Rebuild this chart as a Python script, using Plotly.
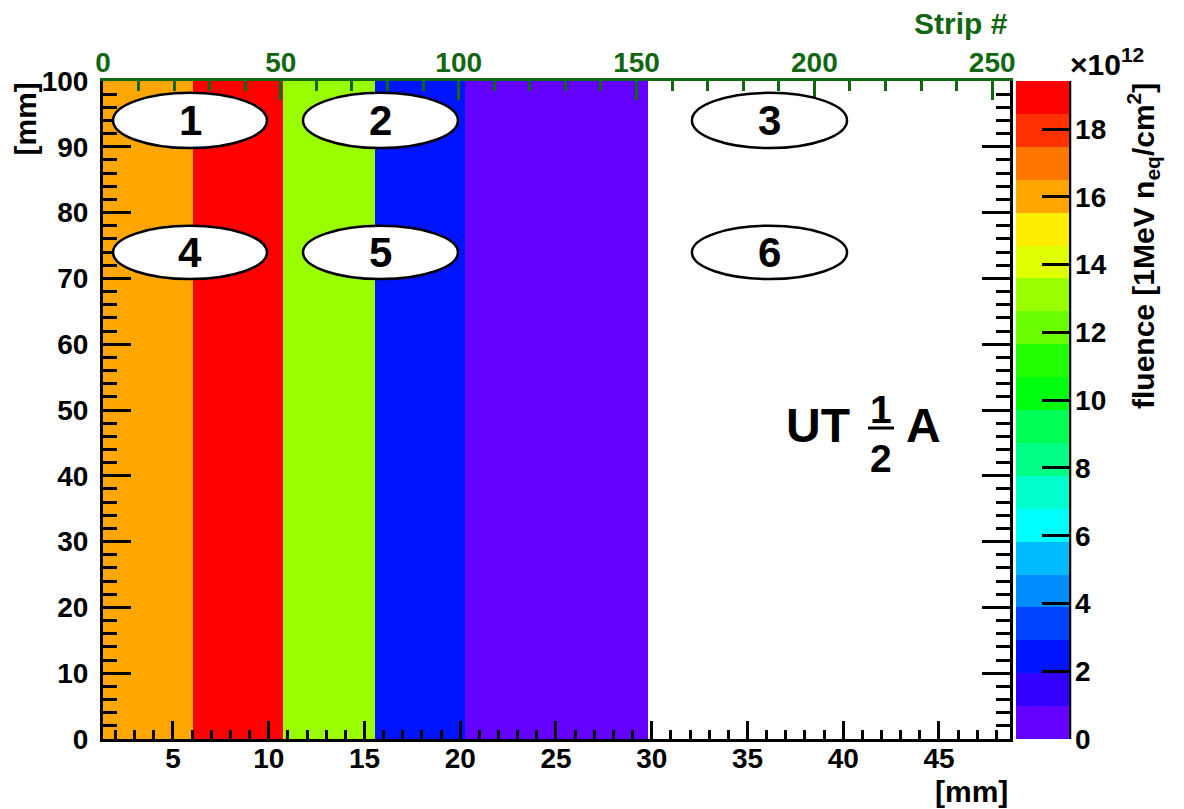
import plotly.graph_objects as go

# ---------------- data ----------------
x_edges_mm = [1.345, 6.04, 10.74, 15.55, 20.25, 25.0, 29.8]   # bin edges [mm]
y_edges_mm = [0, 100]
fluence = [16.0, 19.42, 13.1, 2.4, 0.55, 0.35]                 # x10^12 1MeV neq/cm2
x_range_mm = [1.345, 48.71]
strip_range = [0, 255]
y_range = [0, 100]
cbar_ticks = [0, 2, 4, 6, 8, 10, 12, 14, 16, 18]
sensor_labels = [["1", "2", "3"], ["4", "5", "6"]]
sensor_cols_mm = [(1.87, 9.91), (11.79, 19.88), (32.1, 40.2)]
sensor_rows_mm = [(89.8, 98.2), (69.9, 78.0)]

# ROOT "pretty" palette, 20 contour levels (bottom -> top)
palette = ["#6300ff", "#3300ff", "#0014ff", "#0044ff", "#008bff", "#00bbff",
           "#00fffc", "#00ffcc", "#00ff85", "#00ff55", "#00ff0e", "#22ff00",
           "#69ff00", "#99ff00", "#e0ff00", "#ffee00", "#ffa700", "#ff7700",
           "#ff3000", "#ff0000"]

FONT = "Liberation Sans"
GREEN = "#116611"
W, H = 1184, 809
L, R, T, B = 103, 174, 81, 70
TICK_FS = 28

n = len(palette)
colorscale = []
for k, c in enumerate(palette):
    colorscale.append([k / n, c])
    colorscale.append([(k + 1) / n, c])

zmax = max(fluence)

fig = go.Figure()
fig.add_trace(go.Heatmap(
    z=[fluence], x=x_edges_mm, y=y_edges_mm,
    zmin=0, zmax=zmax, colorscale=colorscale, zsmooth=False,
    hoverinfo="skip",
    colorbar=dict(
        x=(1016 - L) / (W - L - R), xanchor="left", xpad=0, ypad=0,
        y=0.5, yanchor="middle", len=1, lenmode="fraction",
        thickness=53, thicknessmode="pixels",
        outlinewidth=0,
        tickmode="array", tickvals=cbar_ticks,
        ticks="inside", ticklen=27, tickwidth=2.5, tickcolor="black",
        tickfont=dict(family=FONT, size=TICK_FS, color="black", weight="bold"),
    ),
))
# dummy trace to activate top axis
fig.add_trace(go.Scatter(x=[], y=[], xaxis="x2", yaxis="y", showlegend=False))

fig.update_layout(
    width=W, height=H, margin=dict(l=L, r=R, t=T, b=B, pad=0),
    paper_bgcolor="white", plot_bgcolor="white", showlegend=False,
    xaxis=dict(
        range=x_range_mm, showgrid=False, zeroline=False,
        showline=True, linecolor="black", linewidth=3, mirror=False,
        tick0=0, dtick=5, ticks="inside", ticklen=18, tickwidth=2.5, tickcolor="black",
        minor=dict(dtick=1, ticks="inside", ticklen=9, tickwidth=2.5, tickcolor="black"),
        tickfont=dict(family=FONT, size=TICK_FS, color="black", weight="bold"),
        ticklabelstandoff=-8,
    ),
    xaxis2=dict(
        range=strip_range, overlaying="x", side="top", anchor="y",
        showgrid=False, zeroline=False,
        showline=True, linecolor=GREEN, linewidth=3,
        tick0=0, dtick=50, ticks="inside", ticklen=19, tickwidth=2.5, tickcolor=GREEN,
        minor=dict(dtick=10, ticks="inside", ticklen=10, tickwidth=2.5, tickcolor=GREEN),
        tickfont=dict(family=FONT, size=TICK_FS, color=GREEN, weight="bold"),
        ticklabelstandoff=-5,
    ),
    yaxis=dict(
        range=y_range, showgrid=False, zeroline=False,
        showline=True, linecolor="black", linewidth=3, mirror="ticks",
        tick0=0, dtick=10, ticks="inside", ticklen=28, tickwidth=2.5, tickcolor="black",
        minor=dict(dtick=2, ticks="inside", ticklen=14, tickwidth=2.5, tickcolor="black"),
        tickfont=dict(family=FONT, size=TICK_FS, color="black", weight="bold"),
        ticklabelstandoff=6,
    ),
)

shapes = []
annotations = []
pw = W - L - R
ph = H - T - B

def px_x(p):
    return (p - L) / pw

def px_y(p):
    return (H - B - p) / ph

# sensor ellipses with labels
for r, (y0, y1) in enumerate(sensor_rows_mm):
    for c, (x0, x1) in enumerate(sensor_cols_mm):
        shapes.append(dict(type="circle", xref="x", yref="y", x0=x0, x1=x1, y0=y0, y1=y1,
                           fillcolor="white", line=dict(color="black", width=2.5), layer="above"))
        annotations.append(dict(x=(x0 + x1) / 2, y=(y0 + y1) / 2, xref="x", yref="y",
                                text=sensor_labels[r][c], showarrow=False,
                                font=dict(family=FONT, size=42, color="black", weight="bold"),
                                xanchor="center", yanchor="middle"))

# "UT 1/2 A" label
bold = lambda s: dict(family=FONT, size=s, color="black", weight="bold")
annotations += [
    dict(x=px_x(818), y=px_y(425), xref="paper", yref="paper", text="UT", showarrow=False,
         font=bold(48), xanchor="center", yanchor="middle"),
    dict(x=px_x(881), y=px_y(409), xref="paper", yref="paper", text="1", showarrow=False,
         font=bold(39), xanchor="center", yanchor="middle"),
    dict(x=px_x(881), y=px_y(458), xref="paper", yref="paper", text="2", showarrow=False,
         font=bold(39), xanchor="center", yanchor="middle"),
    dict(x=px_x(923), y=px_y(425), xref="paper", yref="paper", text="A", showarrow=False,
         font=bold(48), xanchor="center", yanchor="middle"),
]
shapes.append(dict(type="line", xref="paper", yref="paper", x0=px_x(868), x1=px_x(894),
                   y0=px_y(428), y1=px_y(428), line=dict(color="black", width=3)))

# colorbar axis line (right side)
shapes.append(dict(type="line", xref="paper", yref="paper", x0=px_x(1070), x1=px_x(1070),
                   y0=0, y1=1, line=dict(color="black", width=2.5)))

# axis titles
annotations += [
    dict(x=1.0, y=px_y(791), xref="paper", yref="paper", text="[mm]", showarrow=False,
         font=bold(30), xanchor="right", yanchor="middle"),
    dict(x=px_x(25), y=1.0, xref="paper", yref="paper", text="[mm]", showarrow=False,
         font=bold(30), xanchor="center", yanchor="top", textangle=-90),
    dict(x=1.0, y=px_y(23), xref="paper", yref="paper", text="Strip #", showarrow=False,
         font=dict(family=FONT, size=30, color=GREEN, weight="bold"),
         xanchor="right", yanchor="middle"),
    dict(x=px_x(1143), y=1.0, xref="paper", yref="paper",
         text="fluence [1MeV n<sub>eq</sub>/cm<sup>2</sup>]", showarrow=False,
         font=bold(30), xanchor="center", yanchor="top", textangle=-90),
    dict(x=px_x(1068), y=px_y(62), xref="paper", yref="paper",
         text="×10<sup>12</sup>", showarrow=False,
         font=bold(30), xanchor="left", yanchor="middle"),
]

fig.update_layout(shapes=shapes, annotations=annotations)
fig.write_html("out.html")
